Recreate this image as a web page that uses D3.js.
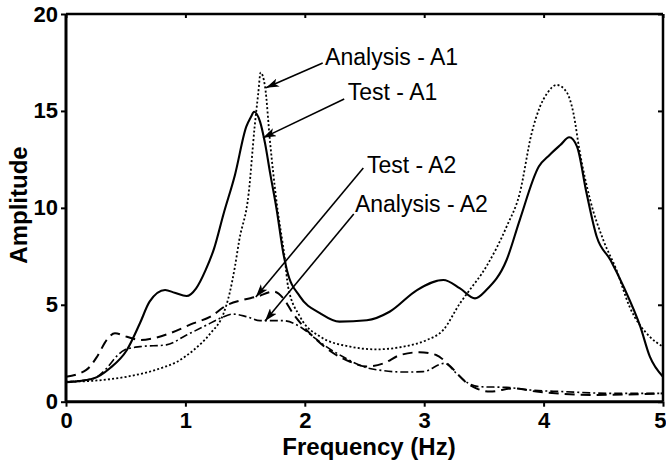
<!DOCTYPE html>
<html><head><meta charset="utf-8">
<script src="https://cdn.jsdelivr.net/npm/d3@7"></script>
<style>body{margin:0;background:#fff}svg{display:block}</style>
</head><body>
<svg id="c" width="666" height="461"></svg>
<script>
// ---- data ----
const xTicks = [0, 1, 2, 3, 4, 5];
const yTicks = [0, 5, 10, 15, 20];
const xLabel = "Frequency (Hz)";
const yLabel = "Amplitude";

const testA1 = [[0,1.0],[0.23,1.2],[0.37,1.74],[0.51,2.67],[0.62,4.06],[0.70,5.16],[0.83,5.76],[0.91,5.62],[1.01,5.45],[1.09,5.85],[1.17,6.8],[1.24,7.9],[1.32,9.7],[1.415,11.7],[1.51,14.19],[1.55,14.7],[1.575,14.96],[1.625,14.45],[1.667,13.33],[1.71,11.78],[1.765,9.89],[1.82,7.66],[1.85,6.8],[1.96,5.42],[2.13,4.56],[2.29,4.13],[2.52,4.2],[2.71,4.64],[2.94,5.76],[3.16,6.28],[3.30,5.85],[3.425,5.33],[3.52,5.76],[3.69,7.31],[3.80,9.37],[3.96,12.13],[4.05,12.73],[4.14,13.24],[4.215,13.64],[4.28,13.16],[4.36,10.75],[4.445,8.51],[4.56,7.31],[4.67,5.93],[4.81,3.87],[4.89,2.32],[5.0,1.29]];
const analysisA1 = [[0,1.03],[0.23,1.08],[0.51,1.29],[0.79,1.72],[0.93,2.06],[1.07,2.67],[1.21,3.53],[1.32,4.56],[1.37,5.59],[1.415,6.97],[1.45,8.3],[1.53,10.75],[1.58,14.19],[1.61,15.9],[1.63,16.98],[1.667,16.25],[1.71,13.33],[1.765,10.24],[1.834,7.31],[1.86,5.93],[1.96,4.39],[2.13,3.35],[2.38,2.84],[2.60,2.70],[2.825,2.84],[3.02,3.18],[3.16,3.70],[3.30,5.08],[3.36,5.59],[3.52,6.97],[3.69,9.03],[3.80,10.75],[3.90,13.85],[3.97,15.22],[4.03,15.91],[4.11,16.34],[4.19,16.0],[4.25,14.88],[4.30,12.99],[4.39,10.41],[4.50,8.34],[4.61,6.8],[4.72,4.9],[4.89,3.35],[5.0,2.84]];
const testA2 = [[0,1.29],[0.17,1.64],[0.26,2.32],[0.34,3.18],[0.41,3.53],[0.51,3.35],[0.62,3.18],[0.73,3.27],[0.87,3.53],[1.07,4.05],[1.21,4.39],[1.35,4.99],[1.48,5.25],[1.60,5.42],[1.74,5.68],[1.82,5.33],[1.90,4.56],[1.99,3.87],[2.10,3.18],[2.24,2.5],[2.38,2.06],[2.52,1.81],[2.66,1.98],[2.80,2.41],[2.96,2.55],[3.10,2.41],[3.22,1.81],[3.36,0.95],[3.45,0.65],[3.55,0.52],[3.75,0.69],[3.94,0.52],[4.44,0.35],[5.0,0.43]];
const analysisA2 = [[0,1.03],[0.23,1.2],[0.34,1.72],[0.42,2.32],[0.49,2.67],[0.62,2.84],[0.84,2.93],[1.01,3.44],[1.18,3.96],[1.29,4.30],[1.40,4.52],[1.51,4.39],[1.625,4.18],[1.82,4.18],[1.96,3.87],[2.07,3.35],[2.18,2.84],[2.32,2.32],[2.49,1.81],[2.66,1.6],[2.825,1.53],[2.99,1.55],[3.17,1.98],[3.27,1.46],[3.37,0.95],[3.47,0.77],[3.69,0.74],[3.89,0.6],[4.17,0.52],[4.58,0.43],[5.0,0.43]];

// annotation labels: [text, labelX, labelY, arrowStartX, arrowStartY, tipX, tipY]
const annotations = [
  ["Analysis - A1", 2.17, 17.37, 2.15, 17.47, 1.675, 16.19],
  ["Test - A1",     2.36, 15.57, 2.33, 15.62, 1.65, 13.61],
  ["Test - A2",     2.52, 11.80, 2.49, 12.06, 1.59, 5.40],
  ["Analysis - A2", 2.42, 9.79,  2.41, 9.68,  1.667, 4.16]
];

// ---- drawing ----
const W = 666, H = 461;
const m = {left: 66, right: 3, top: 14, bottom: 59.3};
const svg = d3.select("#c");
const font = "'Liberation Sans', Arial, Helvetica, sans-serif";
const x = d3.scaleLinear().domain([0, 5]).range([m.left, W - m.right]);
const y = d3.scaleLinear().domain([0, 20]).range([H - m.bottom, m.top]);

const defs = svg.append("defs");
defs.append("marker").attr("id", "ah").attr("viewBox", "0 0 12 8")
  .attr("refX", 12).attr("refY", 4).attr("markerWidth", 13).attr("markerHeight", 9)
  .attr("markerUnits", "userSpaceOnUse").attr("orient", "auto")
  .append("path").attr("d", "M0,0 L12,4 L0,8 L3,4 Z").attr("fill", "#000");

const line = d3.line().x(d => x(d[0])).y(d => y(d[1])).curve(d3.curveMonotoneX);

const styles = [
  [analysisA1, "2,2.2", 1.8],
  [testA2, "10,6", 2.0],
  [analysisA2, "8,3,2,3", 1.6],
  [testA1, null, 2.1]
];
styles.forEach(([data, dash, w]) => {
  svg.append("path").datum(data).attr("d", line).attr("fill", "none")
    .attr("stroke", "#000").attr("stroke-width", w)
    .attr("stroke-dasharray", dash).attr("stroke-linejoin", "round");
});

// axes
const gx = svg.append("g").attr("transform", `translate(0,${y(0)})`)
  .call(d3.axisBottom(x).tickValues(xTicks).tickSize(5).tickPadding(6).tickFormat(d3.format("d")));
const gy = svg.append("g").attr("transform", `translate(${x(0)},0)`)
  .call(d3.axisLeft(y).tickValues(yTicks).tickSize(5).tickPadding(3).tickFormat(d3.format("d")));
const gt = svg.append("g").attr("transform", `translate(0,${y(20)})`)
  .call(d3.axisBottom(x).tickValues(xTicks).tickSize(4).tickFormat(""));
const gr = svg.append("g").attr("transform", `translate(${x(5)},0)`)
  .call(d3.axisLeft(y).tickValues(yTicks).tickSize(5).tickFormat(""));
[gx, gy, gt, gr].forEach(g => {
  g.select(".domain").attr("stroke", "#000").attr("stroke-width", 3);
  g.selectAll(".tick line").attr("stroke", "#000").attr("stroke-width", 2);
  g.selectAll(".tick text").attr("fill", "#000").style("font-family", font)
    .style("font-size", "22px").style("font-weight", "bold");
});
// keep the last x label inside the page
gx.selectAll(".tick text").filter(d => d === 5).attr("text-anchor", "end").attr("x", 3);
gx.selectAll(".domain").attr("d", `M${x(0)},0H${x(5)}`);
gy.selectAll(".domain").attr("d", `M0,${y(0)}V${y(20)}`);
gt.selectAll(".domain").attr("d", `M${x(0)},0H${x(5)}`).attr("stroke-width", 2.5);
gr.selectAll(".domain").attr("d", `M0,${y(0)}V${y(20)}`).attr("stroke-width", 2.5);

// axis titles
svg.append("text").attr("x", 369).attr("y", 455).attr("text-anchor", "middle")
  .style("font-family", font).style("font-size", "24px").style("font-weight", "bold").text(xLabel);
svg.append("text").attr("transform", "translate(27,205) rotate(-90)").attr("text-anchor", "middle")
  .style("font-family", font).style("font-size", "24px").style("font-weight", "bold").text(yLabel);

// annotations
annotations.forEach(([t, lx, ly, sx, sy, tx, ty]) => {
  svg.append("line").attr("x1", x(sx)).attr("y1", y(sy)).attr("x2", x(tx)).attr("y2", y(ty))
    .attr("stroke", "#000").attr("stroke-width", 1.6).attr("marker-end", "url(#ah)");
  svg.append("text").attr("x", x(lx)).attr("y", y(ly))
    .style("font-family", font).style("font-size", "23px").text(t);
});
</script>
</body></html>
